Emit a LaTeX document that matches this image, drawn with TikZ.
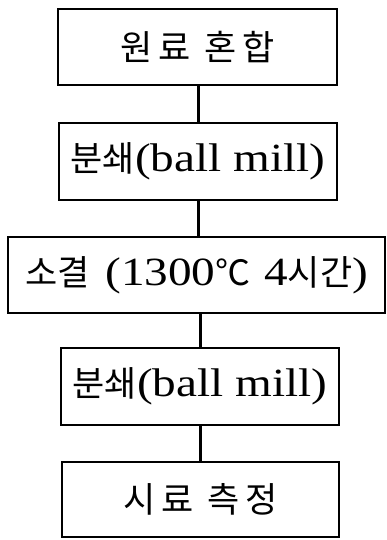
\documentclass[tikz,border=0pt]{standalone}
\usepackage{fontspec}
\setmainfont{Liberation Serif}[FakeStretch=1.18]
\newfontfamily\kr{Noto Sans CJK KR}
\newfontfamily\krsp{Noto Sans CJK KR}[LetterSpace=16]
\begin{document}
\begin{tikzpicture}[x=1pt,y=1pt,
  stepbox/.style={draw=black, line width=2.8pt, inner sep=0pt, rectangle,
    font=\fontsize{40}{48}\selectfont},
  link/.style={draw=black, line width=3pt}]
\useasboundingbox (0,0) rectangle (386,540);
\node[stepbox, minimum width=279pt, minimum height=76pt] (b1) at (197.5,493)
  {{\krsp\fontsize{35}{40}\selectfont 원료 혼합}};
\node[stepbox, minimum width=278pt, minimum height=77pt] (b2) at (198,378.5)
  {{\kr\fontsize{35}{40}\selectfont 분쇄}(ball mill)};
\node[stepbox, minimum width=377pt, minimum height=76pt] (b3) at (196.5,265)
  {{\kr\fontsize{35}{40}\selectfont 소결}\hspace{4pt} (1300{\kr\fontsize{35}{40}\selectfont ℃}\hspace{2pt} 4{\kr\fontsize{35}{40}\selectfont 시간})};
\node[stepbox, minimum width=278pt, minimum height=77pt] (b4) at (200,153.5)
  {{\kr\fontsize{35}{40}\selectfont 분쇄}(ball mill)};
\node[stepbox, minimum width=277pt, minimum height=75pt] (b5) at (200.5,40.5)
  {{\krsp\fontsize{35}{40}\selectfont 시료 측정}};
\coordinate (c1) at (198,0);
\coordinate (c2) at (200,0);
\draw[link] (b1.south -| c1) -- (b2.north -| c1);
\draw[link] (b2.south -| c1) -- (b3.north -| c1);
\draw[link] (b3.south -| c2) -- (b4.north -| c2);
\draw[link] (b4.south -| c2) -- (b5.north -| c2);
\end{tikzpicture}
\end{document}
